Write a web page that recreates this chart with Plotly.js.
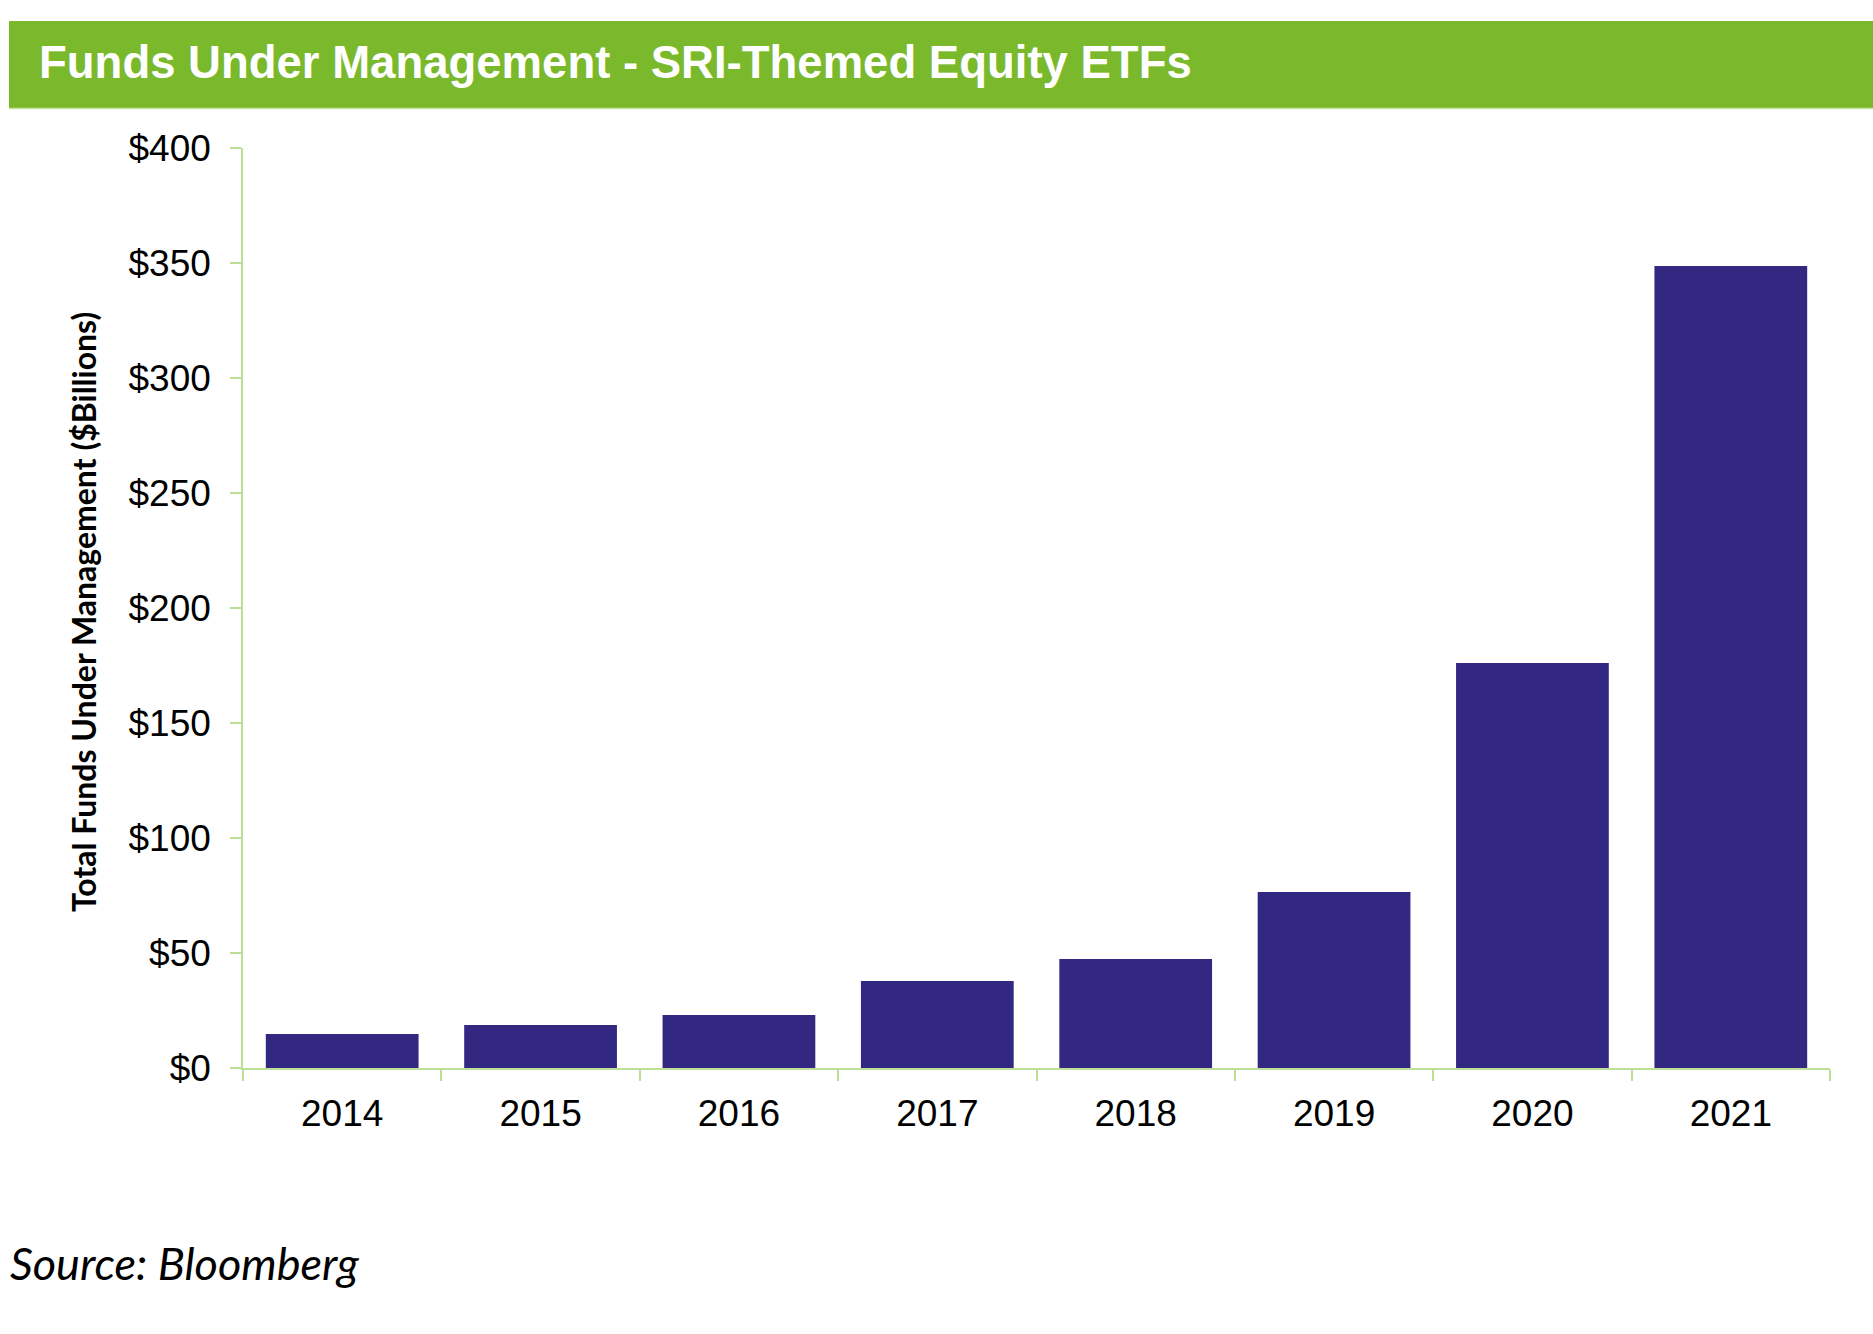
<!DOCTYPE html>
<html>
<head>
<meta charset="utf-8">
<script src="https://cdn.plot.ly/plotly-3.0.1.min.js"></script>
<style>
  html, body { margin: 0; padding: 0; background: #fff; }
  #chart { width: 1873px; height: 1334px; }
</style>
</head>
<body>
<div id="chart"></div>
<script>
// funds under management, $bn
const years = ['2014', '2015', '2016', '2017', '2018', '2019', '2020', '2021'];
const funds = [14.8, 18.7, 23.0, 37.8, 47.4, 76.5, 176.1, 348.7];
const yTicks = [0, 50, 100, 150, 200, 250, 300, 350, 400];

const W = 1873, H = 1334;
const L = 243, R = 43, T = 148, B = 266;
const pw = W - L - R, ph = H - T - B;
// pixel -> paper helpers
const px = (x) => (x - L) / pw;
const py = (y) => (H - B - y) / ph;

const axisGreen = '#bcde95';
const tickFont = { family: 'Liberation Sans, Arial, sans-serif', size: 37, color: '#000' };

const trace = {
    type: 'bar',
    x: years,
    y: funds,
    marker: { color: '#322882' },
    hoverinfo: 'x+y',
};

const layout = {
    width: W,
    height: H,
    margin: { l: L, r: R, t: T, b: B, pad: 0 },
    paper_bgcolor: '#fff',
    plot_bgcolor: '#fff',
    showlegend: false,
    bargap: 0.23,
    xaxis: {
        type: 'category',
        showline: true,
        linecolor: axisGreen,
        linewidth: 1.5,
        ticks: 'outside',
        tickson: 'boundaries',
        ticklen: 11,
        tickwidth: 1.5,
        tickcolor: axisGreen,
        tickfont: tickFont,
        ticklabelstandoff: 12,
        showgrid: false,
        zeroline: false,
        fixedrange: true,
    },
    yaxis: {
        range: [0, 400],
        tickvals: yTicks,
        ticktext: yTicks.map((v) => '$' + v),
        showline: true,
        linecolor: axisGreen,
        linewidth: 1.5,
        ticks: 'outside',
        ticklen: 11,
        tickwidth: 1.5,
        tickcolor: axisGreen,
        tickfont: tickFont,
        ticklabelstandoff: 12,
        showgrid: false,
        zeroline: false,
        fixedrange: true,
    },
    shapes: [
        // green header band
        { type: 'rect', xref: 'paper', yref: 'paper', layer: 'below',
          x0: px(9), x1: px(W), y0: py(108), y1: py(21),
          fillcolor: '#7ab92c', line: { width: 0 } },
        { type: 'line', xref: 'paper', yref: 'paper',
          x0: px(9), x1: px(W), y0: py(108.5), y1: py(108.5),
          line: { color: '#c6e2a4', width: 1.5 } },
    ],
    annotations: [
        { text: '<b>Funds Under Management - SRI-Themed Equity ETFs</b>',
          xref: 'paper', yref: 'paper', x: px(37), y: py(63),
          xanchor: 'left', yanchor: 'middle', showarrow: false,
          font: { family: 'Liberation Sans, Arial, sans-serif', size: 45.5, color: '#fff' } },
        { text: '<b>Total Funds Under Management ($Billions)</b>',
          xref: 'paper', yref: 'paper', x: px(83), y: py(612),
          xanchor: 'center', yanchor: 'middle', textangle: -90, showarrow: false,
          font: { family: 'Lato, sans-serif', size: 32, color: '#000' } },
        { text: '<i>Source: Bloomberg</i>',
          xref: 'paper', yref: 'paper', x: px(8), y: py(1263),
          xanchor: 'left', yanchor: 'middle', showarrow: false,
          font: { family: 'Lato, sans-serif', size: 45, color: '#000' } },
    ],
};

Plotly.newPlot('chart', [trace], layout, { displayModeBar: false, responsive: false });
</script>
</body>
</html>
